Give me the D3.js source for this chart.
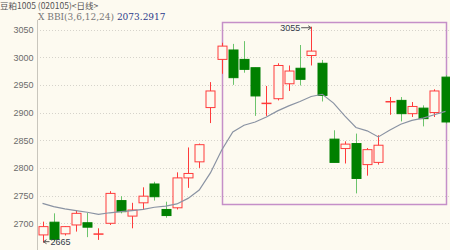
<!DOCTYPE html>
<html>
<head>
<meta charset="utf-8">
<script src="https://cdn.jsdelivr.net/npm/d3@7"></script>
<style>
  body { margin: 0; background: #fdfaf0; }
  svg { display: block; }
</style>
</head>
<body>
<svg id="chart" width="450" height="250"></svg>
<script>
// daily candles
const opens  = [2679, 2702, 2681, 2697, 2701, 2681, 2700, 2741, 2713, 2737, 2771, 2725, 2728, 2782, 2811, 2909, 2996, 3013, 2996, 2981, 2917, 2925, 2952, 2980, 3003, 2989, 2852, 2835, 2844, 2806, 2810, 2920, 2922, 2898, 2908, 2900, 2964]
const closes = [2694, 2671, 2694, 2718, 2693, 2681, 2754, 2721, 2724, 2749, 2748, 2714, 2782, 2790, 2842, 2939, 3020, 2963, 2978, 2930, 2917, 2985, 2975, 2960, 3011, 2931, 2810, 2843, 2781, 2833, 2841, 2920, 2898, 2911, 2889, 2939, 2883]
const highs  = [2703, 2718, 2695, 2724, 2719, 2691, 2758, 2749, 2737, 2765, 2775, 2739, 2792, 2837, 2844, 2955, 3026, 3024, 3029, 2981, 2948, 2989, 2985, 3022, 3055, 2995, 2868, 2848, 2862, 2836, 2859, 2928, 2928, 2919, 2913, 2942, 2968]
const lows   = [2665, 2668, 2678, 2685, 2675, 2670, 2697, 2718, 2691, 2724, 2741, 2710, 2725, 2764, 2800, 2881, 2970, 2950, 2972, 2894, 2894, 2922, 2939, 2949, 2985, 2920, 2810, 2808, 2754, 2786, 2806, 2896, 2884, 2892, 2875, 2892, 2880]
const bbi    = [2736, 2730, 2726, 2723, 2720, 2716, 2719, 2721, 2723, 2725, 2729, 2731, 2735, 2745, 2760, 2791, 2832, 2865, 2877, 2883, 2892, 2903, 2912, 2920, 2929, 2933, 2917, 2894, 2873, 2867, 2856, 2868, 2879, 2886, 2890, 2896, 2902]
const yTicks = [2700, 2750, 2800, 2850, 2900, 2950, 3000, 3050]
const title = '豆粕1005 (020105)<日线>'
const indName = 'BBI(3,6,12,24)'
const indValue = '2073.2917'
const hiLabel = '3055'
const loLabel = '2665'
// highlighted range (candle indices / price band)
const boxFrom = 16, boxTo = 36
const boxTop = 3063, boxBottom = 2735

const width = 450, height = 250
const svg = d3.select('#chart')

const x = d3.scaleLinear().domain([0, opens.length - 1]).range([42.5, 445.5])
const y = d3.scaleLinear().domain([2700, 3050]).range([223.3, 29.5])

const up = '#ff3b3b', down = '#008000', downWick = '#6cc46c'

// grid
svg.append('g').selectAll('line')
    .data(yTicks).enter().append('line')
    .attr('x1', 37).attr('x2', width)
    .attr('y1', d => Math.round(y(d)) + 0.5).attr('y2', d => Math.round(y(d)) + 0.5)
    .attr('stroke', '#d6d3cb').attr('stroke-dasharray', '1,2')

const yAxis = d3.axisLeft(y).tickValues(yTicks).tickFormat(d3.format('d')).tickSize(0).tickPadding(4)
const axis = svg.append('g')
    .attr('transform', 'translate(37.5,0)')
    .call(yAxis)
axis.select('.domain').remove()
axis.selectAll('text')
    .attr('fill', '#6b6b6b')
    .style('font', '9px "Liberation Sans", Arial, sans-serif')
svg.append('line')
    .attr('x1', 37.5).attr('x2', 37.5).attr('y1', 20).attr('y2', height)
    .attr('stroke', '#c9c6bd')

// highlight box
svg.append('rect')
    .attr('x', Math.round(x(boxFrom)) + 0.5)
    .attr('y', Math.round(y(boxTop)) + 0.5)
    .attr('width', Math.round(x(boxTo)) - Math.round(x(boxFrom)))
    .attr('height', Math.round(y(boxBottom)) - Math.round(y(boxTop)))
    .attr('fill', 'none').attr('stroke', '#c58fc8').attr('stroke-width', 1.5)

// candles
const idx = d3.range(opens.length)
const candle = svg.append('g').selectAll('g')
    .data(idx).enter().append('g')

candle.append('line')
    .attr('x1', i => Math.round(x(i)) + 0.5).attr('x2', i => Math.round(x(i)) + 0.5)
    .attr('y1', i => y(highs[i])).attr('y2', i => y(lows[i]))
    .attr('stroke', i => closes[i] >= opens[i] ? up : downWick)

candle.append('rect')
    .attr('x', i => Math.round(x(i)) - 4)
    .attr('y', i => y(Math.max(opens[i], closes[i])))
    .attr('width', 9)
    .attr('height', i => Math.max(0.5, y(Math.min(opens[i], closes[i])) - y(Math.max(opens[i], closes[i]))))
    .attr('fill', i => closes[i] > opens[i] ? '#fdfaf0' : (closes[i] < opens[i] ? down : 'none'))
    .attr('stroke', i => closes[i] >= opens[i] ? up : down)
    .attr('stroke-width', 1)

// BBI line
svg.append('path')
    .datum(idx)
    .attr('d', d3.line().x(i => x(i)).y(i => y(bbi[i])))
    .attr('fill', 'none').attr('stroke', '#8a93a3').attr('stroke-width', 1.2)

// high / low markers
const hiI = highs.indexOf(d3.max(highs))
const loI = lows.indexOf(d3.min(lows))
svg.append('line')
    .attr('x1', x(hiI) - 10).attr('x2', x(hiI) - 1)
    .attr('y1', y(highs[hiI]) + 1).attr('y2', y(highs[hiI]) + 1)
    .attr('stroke', '#555')
svg.append('path')
    .attr('d', `M${x(hiI) - 3},${y(highs[hiI]) - 1}L${x(hiI)},${y(highs[hiI]) + 1}L${x(hiI) - 3},${y(highs[hiI]) + 3}`)
    .attr('fill', 'none').attr('stroke', '#555')
svg.append('text')
    .attr('x', x(hiI) - 11).attr('y', y(highs[hiI]) + 4.5)
    .attr('text-anchor', 'end')
    .attr('fill', '#333a4a')
    .style('font', '9px "Liberation Sans", Arial, sans-serif')
    .text(hiLabel)

svg.append('line')
    .attr('x1', x(loI) + 1).attr('x2', x(loI) + 7)
    .attr('y1', y(lows[loI]) - 1).attr('y2', y(lows[loI]) - 1)
    .attr('stroke', '#555')
svg.append('path')
    .attr('d', `M${x(loI) + 4},${y(lows[loI]) - 3}L${x(loI) + 1},${y(lows[loI]) - 1}L${x(loI) + 4},${y(lows[loI]) + 1}`)
    .attr('fill', 'none').attr('stroke', '#555')
svg.append('text')
    .attr('x', x(loI) + 8).attr('y', y(lows[loI]) + 2)
    .attr('fill', '#333a4a')
    .style('font', '9px "Liberation Sans", Arial, sans-serif')
    .text(loLabel)

// header
svg.append('text')
    .attr('x', 0).attr('y', 9)
    .attr('fill', '#555')
    .style('font', '8.5px "Noto Sans CJK SC", sans-serif')
    .text(title)
const hdr = svg.append('text')
    .attr('x', 38).attr('y', 20)
    .style('font', '9px "DejaVu Serif", "Liberation Serif", serif')
hdr.append('tspan').attr('fill', '#777').text('X  ' + indName + ' ')
hdr.append('tspan').attr('fill', '#2b3b8c').text(indValue)
</script>
</body>
</html>
